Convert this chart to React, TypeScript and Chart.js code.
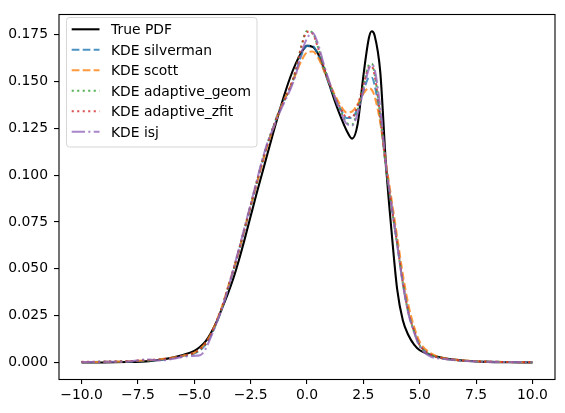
import React, { useEffect, useRef } from 'react';
import { Chart, registerables } from 'chart.js';

Chart.register(...registerables);

const X_GRID = [
  -10, -9, -8, -7, -6.5, -6, -5.5,
  -5, -4.75, -4.5, -4.25, -4, -3.75, -3.5, -3.25, -3, -2.75, -2.5, -2.25,
  -2, -1.75, -1.5, -1.25, -1, -0.75, -0.5, -0.25, 0, 0.25, 0.5, 0.75,
  1, 1.25, 1.5, 1.75, 2, 2.25, 2.5, 2.75, 2.875, 3, 3.25, 3.5, 3.75,
  4, 4.25, 4.5, 4.75, 5, 5.5, 6, 6.5, 7, 8, 9, 10,
];

const TRUE_PDF = [
  0.0000, 0.0000, 0.0002, 0.0007, 0.0014, 0.0025, 0.0040,
  0.0062, 0.0082, 0.0112, 0.0160, 0.0220, 0.0295, 0.0370, 0.0455, 0.0555, 0.0665, 0.0780, 0.0895,
  0.1005, 0.1115, 0.1225, 0.1330, 0.1430, 0.1520, 0.1595, 0.1655, 0.1690, 0.1685, 0.1645, 0.1570,
  0.1480, 0.1390, 0.1310, 0.1240, 0.1195, 0.1275, 0.1530, 0.1735, 0.1768, 0.1745, 0.1550, 0.1060, 0.0700,
  0.0390, 0.0225, 0.0145, 0.0095, 0.0065, 0.0040, 0.0025, 0.0015, 0.0009, 0.0003, 0.0001, 0.0000,
];

const KDE_SILVERMAN = [
  0.0002, 0.0003, 0.0004, 0.0010, 0.0014, 0.0022, 0.0035,
  0.0048, 0.0065, 0.0095, 0.0145, 0.0215, 0.0295, 0.0395, 0.0495, 0.0605, 0.0715, 0.0830, 0.0945,
  0.1060, 0.1165, 0.1255, 0.1340, 0.1405, 0.1465, 0.1545, 0.1640, 0.1690, 0.1690, 0.1640, 0.1560,
  0.1480, 0.1410, 0.1350, 0.1305, 0.1305, 0.1360, 0.1445, 0.1520, 0.1520, 0.1480, 0.1300, 0.1050, 0.0840,
  0.0640, 0.0430, 0.0270, 0.0170, 0.0095, 0.0042, 0.0022, 0.0014, 0.0009, 0.0004, 0.0002, 0.0001,
];

const KDE_SCOTT = [
  0.0002, 0.0003, 0.0006, 0.0012, 0.0017, 0.0025, 0.0036,
  0.0052, 0.0072, 0.0105, 0.0155, 0.0225, 0.0305, 0.0405, 0.0500, 0.0605, 0.0720, 0.0835, 0.0945,
  0.1055, 0.1160, 0.1250, 0.1335, 0.1405, 0.1470, 0.1540, 0.1610, 0.1655, 0.1660, 0.1625, 0.1560,
  0.1490, 0.1425, 0.1370, 0.1335, 0.1340, 0.1380, 0.1435, 0.1465, 0.1455, 0.1420, 0.1280, 0.1070, 0.0870,
  0.0670, 0.0470, 0.0305, 0.0190, 0.0110, 0.0048, 0.0025, 0.0015, 0.0010, 0.0004, 0.0002, 0.0001,
];

const KDE_ADAPTIVE_GEOM = [
  0.0002, 0.0003, 0.0005, 0.0011, 0.0015, 0.0022, 0.0034,
  0.0050, 0.0068, 0.0098, 0.0150, 0.0220, 0.0300, 0.0400, 0.0500, 0.0610, 0.0725, 0.0840, 0.0955,
  0.1070, 0.1170, 0.1255, 0.1335, 0.1400, 0.1465, 0.1560, 0.1690, 0.1770, 0.1760, 0.1680, 0.1580,
  0.1490, 0.1410, 0.1340, 0.1280, 0.1270, 0.1350, 0.1470, 0.1590, 0.1595, 0.1540, 0.1320, 0.1040, 0.0830,
  0.0630, 0.0425, 0.0265, 0.0165, 0.0090, 0.0040, 0.0021, 0.0013, 0.0008, 0.0004, 0.0002, 0.0001,
];

const KDE_ADAPTIVE_ZFIT = [
  0.0003, 0.0004, 0.0006, 0.0013, 0.0016, 0.0023, 0.0035,
  0.0052, 0.0070, 0.0100, 0.0152, 0.0222, 0.0302, 0.0402, 0.0500, 0.0608, 0.0722, 0.0838, 0.0952,
  0.1065, 0.1167, 0.1253, 0.1335, 0.1402, 0.1468, 0.1560, 0.1685, 0.1765, 0.1755, 0.1675, 0.1575,
  0.1490, 0.1415, 0.1355, 0.1310, 0.1310, 0.1375, 0.1480, 0.1575, 0.1580, 0.1530, 0.1315, 0.1045, 0.0835,
  0.0635, 0.0428, 0.0268, 0.0168, 0.0092, 0.0041, 0.0022, 0.0014, 0.0009, 0.0004, 0.0002, 0.0001,
];

const KDE_ISJ = [
  0.0002, 0.0003, 0.0005, 0.0016, 0.0010, 0.0018, 0.0030,
  0.0035, 0.0038, 0.0072, 0.0140, 0.0215, 0.0295, 0.0395, 0.0505, 0.0615, 0.0730, 0.0845, 0.0960,
  0.1075, 0.1175, 0.1250, 0.1325, 0.1390, 0.1455, 0.1535, 0.1650, 0.1730, 0.1760, 0.1695, 0.1590,
  0.1495, 0.1410, 0.1335, 0.1275, 0.1265, 0.1330, 0.1450, 0.1570, 0.1590, 0.1565, 0.1360, 0.1060, 0.0840,
  0.0630, 0.0420, 0.0260, 0.0160, 0.0085, 0.0030, 0.0020, 0.0013, 0.0008, 0.0003, 0.0002, 0.0001,
];

const SERIES_LABELS = [
  'True PDF',
  'KDE silverman',
  'KDE scott',
  'KDE adaptive_geom',
  'KDE adaptive_zfit',
  'KDE isj',
];
const SERIES_VALUES = [TRUE_PDF, KDE_SILVERMAN, KDE_SCOTT, KDE_ADAPTIVE_GEOM, KDE_ADAPTIVE_ZFIT, KDE_ISJ];

const X_TICKS = [-10, -7.5, -5, -2.5, 0, 2.5, 5, 7.5, 10];
const Y_TICKS = [0, 0.025, 0.05, 0.075, 0.1, 0.125, 0.15, 0.175];

const FONT_FAMILY = '"DejaVu Sans", sans-serif';
const FONT_SIZE = 13.9;
const LINE_W = 2.08;

const STYLES = [
  { color: '#000000', dash: [] as number[] },
  { color: 'rgba(31,119,180,0.8)', dash: [7.7, 3.3] },
  { color: 'rgba(255,127,14,0.8)', dash: [7.7, 3.3] },
  { color: 'rgba(44,160,44,0.8)', dash: [2.1, 3.4] },
  { color: 'rgba(214,39,40,0.8)', dash: [2.1, 3.4] },
  { color: 'rgba(148,103,189,0.8)', dash: [13.3, 3.3, 2.1, 3.3] },
];

const minus = (s: string) => s.replace('-', '\u2212');

const framePlugin = {
  id: 'frameAndLegend',
  afterDatasetsDraw(chart: any) {
    const ctx = chart.ctx as CanvasRenderingContext2D;
    const a = chart.chartArea;
    ctx.save();
    ctx.strokeStyle = '#000';
    ctx.lineWidth = 1.1;
    ctx.setLineDash([]);
    ctx.strokeRect(Math.round(a.left), Math.round(a.top) + 0.5, Math.round(a.right - a.left), Math.round(a.bottom - a.top));

    const lx = 66.5, ly = 17.5, lw = 190.5, lh = 129.5, r = 3;
    ctx.beginPath();
    ctx.moveTo(lx + r, ly);
    ctx.lineTo(lx + lw - r, ly);
    ctx.arcTo(lx + lw, ly, lx + lw, ly + r, r);
    ctx.lineTo(lx + lw, ly + lh - r);
    ctx.arcTo(lx + lw, ly + lh, lx + lw - r, ly + lh, r);
    ctx.lineTo(lx + r, ly + lh);
    ctx.arcTo(lx, ly + lh, lx, ly + lh - r, r);
    ctx.lineTo(lx, ly + r);
    ctx.arcTo(lx, ly, lx + r, ly, r);
    ctx.closePath();
    ctx.fillStyle = 'rgba(255,255,255,0.8)';
    ctx.fill();
    ctx.strokeStyle = 'rgba(204,204,204,0.8)';
    ctx.lineWidth = 1;
    ctx.stroke();

    ctx.font = `${FONT_SIZE}px ${FONT_FAMILY}`;
    ctx.textAlign = 'left';
    ctx.textBaseline = 'alphabetic';
    SERIES_LABELS.forEach((label, i) => {
      const y = 29.3 + i * 20.5;
      ctx.beginPath();
      ctx.setLineDash(STYLES[i].dash);
      ctx.lineDashOffset = 0;
      ctx.strokeStyle = STYLES[i].color;
      ctx.lineWidth = LINE_W;
      ctx.lineCap = 'butt';
      ctx.moveTo(71.7, y);
      ctx.lineTo(99.5, y);
      ctx.stroke();
      ctx.setLineDash([]);
      ctx.fillStyle = '#000';
      ctx.fillText(label, 111, y + 5.1);
    });
    ctx.restore();
  },
};

export default function App() {
  const ref = useRef<HTMLCanvasElement | null>(null);

  useEffect(() => {
    if (!ref.current) return;
    Chart.defaults.font.family = FONT_FAMILY;
    const datasets = SERIES_LABELS.map((label, i) => ({
      label,
      data: X_GRID.map((x, j) => ({ x, y: SERIES_VALUES[i][j] })),
      borderColor: STYLES[i].color,
      borderDash: STYLES[i].dash,
      borderWidth: LINE_W,
      borderCapStyle: 'butt' as const,
      pointRadius: 0,
      fill: false,
      cubicInterpolationMode: 'monotone' as const,
      order: SERIES_LABELS.length - 1 - i,
    }));

    const tickFont = { family: FONT_FAMILY, size: FONT_SIZE };
    const chart = new Chart(ref.current, {
      type: 'line',
      data: { datasets },
      options: {
        animation: false,
        responsive: false,
        maintainAspectRatio: false,
        layout: { padding: { left: 0, right: 10, top: 10, bottom: 0 } },
        plugins: { legend: { display: false }, tooltip: { enabled: false } },
        scales: {
          x: {
            type: 'linear',
            min: -11,
            max: 11,
            afterBuildTicks: (scale: any) => {
              scale.ticks = X_TICKS.map((v) => ({ value: v }));
            },
            afterFit: (scale: any) => {
              scale.height = 34;
            },
            border: { display: false },
            grid: { drawOnChartArea: false, drawTicks: true, tickLength: 5, color: '#000', lineWidth: 1.1 },
            ticks: {
              font: tickFont,
              color: '#000',
              padding: 3,
              maxRotation: 0,
              autoSkip: false,
              callback: (v: any) => minus(Number(v).toFixed(1)),
            },
          },
          y: {
            type: 'linear',
            min: -0.00885,
            max: 0.18585,
            afterBuildTicks: (scale: any) => {
              scale.ticks = Y_TICKS.map((v) => ({ value: v }));
            },
            afterFit: (scale: any) => {
              scale.width = 59;
            },
            border: { display: false },
            grid: { drawOnChartArea: false, drawTicks: true, tickLength: 5, color: '#000', lineWidth: 1.1 },
            ticks: {
              font: tickFont,
              color: '#000',
              padding: 6,
              autoSkip: false,
              callback: (v: any) => Number(v).toFixed(3),
            },
          },
        },
      },
      plugins: [framePlugin],
    });
    return () => chart.destroy();
  }, []);

  return (
    <div style={{ position: 'fixed', left: 0, top: 0, width: 565, height: 413, background: '#fff' }}>
      <canvas ref={ref} width={565} height={413} style={{ display: 'block' }} />
    </div>
  );
}
